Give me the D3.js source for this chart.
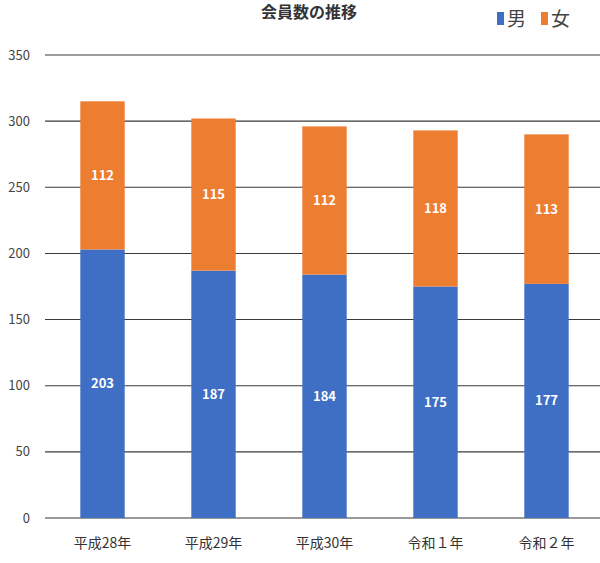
<!DOCTYPE html>
<html>
<head>
<meta charset="utf-8">
<script src="https://cdn.jsdelivr.net/npm/d3@7"></script>
<style>
  body { margin: 0; background: #fff; }
  text { font-family: "Noto Sans CJK JP", "Noto Sans", sans-serif; }
</style>
</head>
<body>
<div id="chart"></div>
<script>
var years = ["平成28年", "平成29年", "平成30年", "令和１年", "令和２年"];
var male = [203, 187, 184, 175, 177];
var female = [112, 115, 112, 118, 113];
var seriesNames = ["男", "女"];
var colors = ["#3f6fc4", "#ed7d31"];
var yTicks = [0, 50, 100, 150, 200, 250, 300, 350];

var W = 600, H = 563;
var margin = {top: 55, right: 0, bottom: 45, left: 45};
var width = W - margin.left - margin.right,
    height = H - margin.top - margin.bottom;

var svg = d3.select("#chart").append("svg")
    .attr("width", W)
    .attr("height", H);

var g = svg.append("g")
    .attr("transform", "translate(" + margin.left + "," + margin.top + ")");

var x = d3.scaleBand()
    .domain(years)
    .range([2, width + 2])
    .paddingInner(0.6)
    .paddingOuter(0.3);

var y = d3.scaleLinear()
    .domain([0, 350])
    .range([height, 0]);

// gridlines
g.selectAll(".grid")
    .data(yTicks)
    .enter().append("line")
    .attr("x1", 0)
    .attr("x2", width)
    .attr("y1", function(d) { return y(d); })
    .attr("y2", function(d) { return y(d); })
    .attr("stroke", function(d) { return d === 0 ? "#777" : "#3a3a3a"; })
    .attr("stroke-width", function(d) { return d === 0 ? 1.5 : 1.1; });

// y labels
g.selectAll(".ylab")
    .data(yTicks)
    .enter().append("text")
    .attr("x", -15)
    .attr("y", function(d) { return y(d); })
    .attr("dy", "0.35em")
    .attr("text-anchor", "end")
    .attr("font-size", 13)
    .attr("fill", "#444")
    .text(function(d) { return d; });

var rows = years.map(function(yr, i) { return {year: yr, "男": male[i], "女": female[i]}; });
var stacked = d3.stack().keys(seriesNames)(rows);

var layer = g.selectAll(".layer")
    .data(stacked)
    .enter().append("g")
    .attr("fill", function(d, i) { return colors[i]; });

layer.selectAll("rect")
    .data(function(d) { return d; })
    .enter().append("rect")
    .attr("x", function(d) { return x(d.data.year); })
    .attr("width", x.bandwidth())
    .attr("y", function(d) { return y(d[1]); })
    .attr("height", function(d) { return y(d[0]) - y(d[1]); });

layer.selectAll(".val")
    .data(function(d) { return d; })
    .enter().append("text")
    .attr("x", function(d) { return x(d.data.year) + x.bandwidth() / 2; })
    .attr("y", function(d) { return y((d[0] + d[1]) / 2); })
    .attr("dy", "0.35em")
    .attr("text-anchor", "middle")
    .attr("font-size", 13)
    .attr("font-weight", "bold")
    .attr("fill", "#fff")
    .text(function(d) { return d[1] - d[0]; });

// x labels
g.selectAll(".xlab")
    .data(years)
    .enter().append("text")
    .attr("x", function(d) { return x(d) + x.bandwidth() / 2; })
    .attr("y", height + 30)
    .attr("text-anchor", "middle")
    .attr("font-size", 14)
    .attr("fill", "#333")
    .text(function(d) { return d; });

// title
svg.append("text")
    .attr("x", 309)
    .attr("y", 18)
    .attr("text-anchor", "middle")
    .attr("font-size", 16)
    .attr("font-weight", "bold")
    .attr("fill", "#333")
    .text("会員数の推移");

// legend
var legend = svg.append("g")
    .attr("transform", "translate(497,19)");
var items = legend.selectAll(".item")
    .data(seriesNames)
    .enter().append("g")
    .attr("transform", function(d, i) { return "translate(" + (i * 44) + ",0)"; });
items.append("rect")
    .attr("x", 0)
    .attr("y", -7)
    .attr("width", 7)
    .attr("height", 13)
    .attr("fill", function(d, i) { return colors[i]; });
items.append("text")
    .attr("x", 10)
    .attr("y", 0)
    .attr("dy", "0.36em")
    .attr("font-size", 19)
    .attr("fill", "#444")
    .text(function(d) { return d; });
</script>
</body>
</html>
